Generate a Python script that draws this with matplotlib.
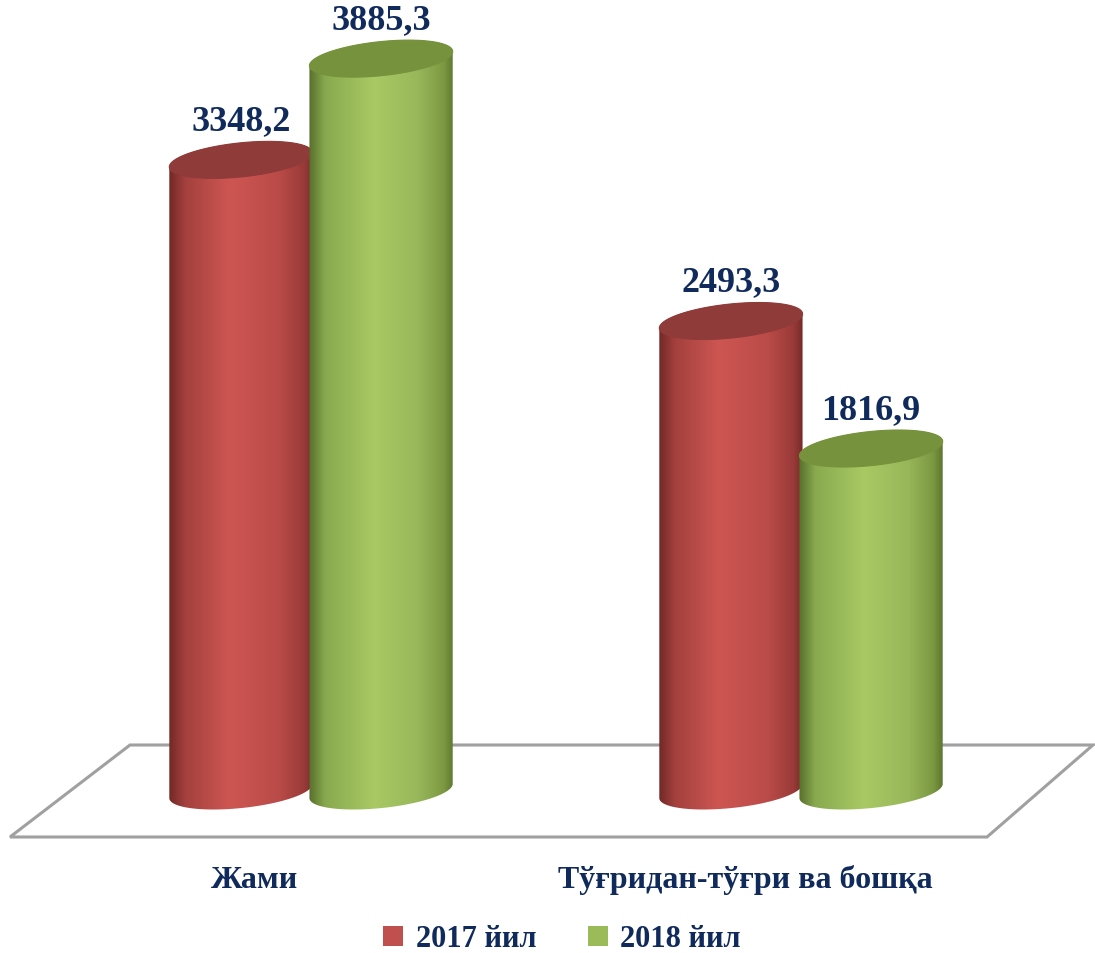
import numpy as np
import matplotlib
matplotlib.use('Agg')
import matplotlib.pyplot as plt
from matplotlib.patches import Polygon, Patch
from matplotlib.colors import LinearSegmentedColormap
from matplotlib.font_manager import FontProperties

# data
categories = ['Жами', 'Тўғридан-тўғри ва бошқа']
series_names = ['2017 йил', '2018 йил']
values_2017 = [3348.2, 2493.3]
values_2018 = [3885.3, 1816.9]

# layout (pixels)
W, H = 1095, 954
BASE_PX = 162          # cylinder base centre, from figure bottom
PX_PER_UNIT = 0.1885   # vertical scale
GROUP_PX = 490         # distance between the two groups
GROUP0_PX = 311        # x of the first group centre
HALF_W = 72            # cylinder radius (px)
ELL_B = 17             # ellipse half height (px)
TILT = np.deg2rad(6)
OFFSET = 0.143         # red/green offset from group centre (data units)

NAVY = '#102A5C'
SERIF = ['Liberation Serif', 'DejaVu Serif']

red_cmap = LinearSegmentedColormap.from_list('red', [
    (0.0, '#6B2624'), (0.12, '#A3403D'), (0.42, '#CE5652'),
    (0.75, '#BA4B48'), (0.92, '#9A3B39'), (1.0, '#6E2826')])
green_cmap = LinearSegmentedColormap.from_list('green', [
    (0.0, '#526829'), (0.12, '#88A94E'), (0.45, '#A9C964'),
    (0.75, '#98B75A'), (0.92, '#7C9942'), (1.0, '#56702A')])
series_style = [
    (values_2017, red_cmap, '#8F3B39', '#C0504D', -OFFSET),
    (values_2018, green_cmap, '#76923C', '#9BBB59', OFFSET),
]


def dx(px):
    return px / GROUP_PX


def dy(px):
    return px / PX_PER_UNIT


def ellipse(cx, cy, t):
    ex = HALF_W * np.cos(t) * np.cos(TILT) - ELL_B * np.sin(t) * np.sin(TILT)
    ey = HALF_W * np.cos(t) * np.sin(TILT) + ELL_B * np.sin(t) * np.cos(TILT)
    return cx + dx(ex), cy + dy(ey)


def draw_cylinder(ax, cx, value, cmap, top_color, z):
    theta_r = np.arctan2(-ELL_B * np.sin(TILT), HALF_W * np.cos(TILT))
    t_top = np.linspace(theta_r, theta_r + np.pi, 80)
    t_bot = np.linspace(theta_r + np.pi, theta_r + 2 * np.pi, 80)
    xt, yt = ellipse(cx, value, t_top)
    xb, yb = ellipse(cx, 0.0, t_bot)
    body = Polygon(np.column_stack([np.r_[xt, xb], np.r_[yt, yb]]),
                   closed=True, facecolor='none', edgecolor='none', zorder=z)
    ax.add_patch(body)
    grad = np.linspace(0, 1, 256).reshape(1, -1)
    img = ax.imshow(grad, cmap=cmap, aspect='auto', zorder=z,
                    extent=[cx - dx(HALF_W + 2), cx + dx(HALF_W + 2),
                            -dy(ELL_B + 12), value + dy(ELL_B + 12)],
                    interpolation='bicubic')
    img.set_clip_path(body)
    t = np.linspace(0, 2 * np.pi, 160)
    xe, ye = ellipse(cx, value, t)
    ax.add_patch(Polygon(np.column_stack([xe, ye]), closed=True,
                         facecolor=top_color, edgecolor=top_color,
                         linewidth=0.8, zorder=z + 0.1))


fig = plt.figure(figsize=(W / 100, H / 100), dpi=100)
ax = fig.add_axes([0, 0, 1, 1])
ax.set_xlim(-GROUP0_PX / GROUP_PX, (W - GROUP0_PX) / GROUP_PX)
ax.set_ylim(-BASE_PX / PX_PER_UNIT, (H - BASE_PX) / PX_PER_UNIT)
ax.axis('off')

# floor
x0 = dx(-181)
floor = Polygon([(x0 + dx(0), dy(46)), (x0 + dx(963), dy(46)),
                 (x0 + dx(857), dy(-46)), (x0 + dx(-120), dy(-46))],
                closed=True, facecolor='white', edgecolor='#A0A0A0',
                linewidth=2.2, zorder=0)
ax.add_patch(floor)

label_font = FontProperties(family=SERIF, weight='bold', size=26)
for k, (vals, cmap, top_color, _, off) in enumerate(series_style):
    for i, v in enumerate(vals):
        cx = i + off
        draw_cylinder(ax, cx, v, cmap, top_color, z=2 + k)
        ax.annotate(f'{v:.1f}'.replace('.', ','), xy=(cx, v),
                    xytext=(0, 22), textcoords='offset points',
                    ha='center', va='baseline', color=NAVY,
                    fontproperties=label_font, zorder=10)

cat_font = FontProperties(family=SERIF, weight='bold', size=23)
for i, name in enumerate(categories):
    ax.text(i - dx(56), dy(66 - BASE_PX), name, ha='center', va='baseline',
            color=NAVY, fontproperties=cat_font)

handles = [Patch(facecolor=s[3], edgecolor='none', label=n)
           for s, n in zip(series_style, series_names)]
fig.legend(handles=handles, loc='center', bbox_to_anchor=(562 / W, 1 - 940 / H),
           ncol=2, frameon=False, labelcolor=NAVY,
           prop=FontProperties(family=SERIF, weight='bold', size=22),
           handlelength=0.65, handleheight=0.65, handletextpad=0.4,
           columnspacing=1.7)

fig.savefig('out.png', dpi=100, facecolor='white')
